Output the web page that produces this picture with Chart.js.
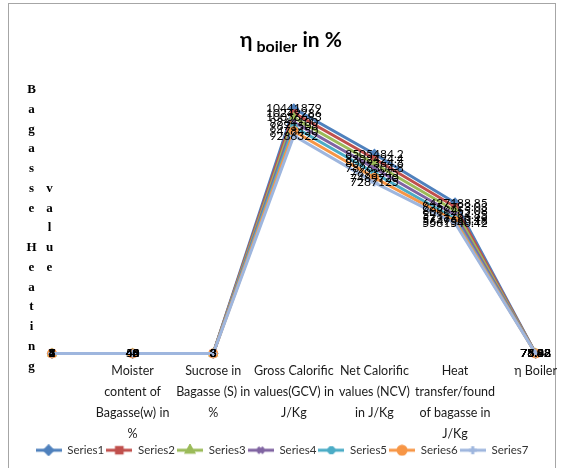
<!DOCTYPE html>
<html>
<head>
<meta charset="utf-8">
<script src="https://cdn.jsdelivr.net/npm/chart.js@4.4.1/dist/chart.umd.min.js"></script>
<style>
  html, body { margin: 0; padding: 0; background: #ffffff; }
  #wrap { width: 564px; height: 468px; position: relative; }
</style>
</head>
<body>
<div id="wrap"><canvas id="c" width="564" height="468"></canvas></div>
<script>
// Categories (multi-line labels for the x axis)
const categories = [
  "",
  ["Moister", "content of", "Bagasse(w) in", "%"],
  ["Sucrose in", "Bagasse (S) in", "%"],
  ["Gross Calorific", "values(GCV) in", "J/Kg"],
  ["Net Calorific", "values (NCV)", "in J/Kg"],
  ["Heat", "transfer/found", "of bagasse in", "J/Kg"],
  "η Boiler"
];

// Series values, one array per series
const series1 = [1, 50, 3, 10441879, 8505484.2, 6427188.85, 75.32];
const series2 = [2, 48, 3, 10249286, 8302424.4, 6256723.03, 75.88];
const series3 = [3, 46, 3, 10056693, 8099364.6, 6086255.08, 76.38];
const series4 = [4, 45, 3, 9864100, 7896304.8, 5911784.85, 76.92];
const series5 = [5, 44, 3, 9671508, 7693245, 5737660.49, 77.48];
const series6 = [6, 42, 3, 9478450, 7489720, 5649563.18, 78.02];
const series7 = [7, 40, 3, 9286322, 7287125, 5561540.42, 78.88];

const seriesNames = ["Series1", "Series2", "Series3", "Series4", "Series5", "Series6", "Series7"];
const seriesData = [series1, series2, series3, series4, series5, series6, series7];
const seriesColors = ["#4F81BD", "#C0504D", "#9BBB59", "#8064A2", "#4BACC6", "#F79646", "#9EB6DE"];
const seriesMarkers = ["rectRot", "rect", "triangle", "crossRot", "star", "circle", "cross"];

const FONT = "Lato, 'Open Sans', 'Liberation Sans', sans-serif";

// Legend swatches: a short line with the series marker in the middle
function makeSwatch(color, marker) {
  const cv = document.createElement("canvas");
  cv.width = 26; cv.height = 12;
  const g = cv.getContext("2d");
  g.strokeStyle = color; g.lineWidth = 3;
  g.beginPath(); g.moveTo(0, 6); g.lineTo(26, 6); g.stroke();
  g.fillStyle = color; g.strokeStyle = color;
  Chart.helpers.drawPoint(g, { pointStyle: marker, rotation: 0, radius: 4, borderWidth: 2 }, 13, 6);
  return cv;
}
const swatches = seriesColors.map((c, i) => makeSwatch(c, seriesMarkers[i]));

const datasets = seriesData.map((vals, i) => ({
  label: seriesNames[i],
  data: vals,
  borderColor: seriesColors[i],
  backgroundColor: seriesColors[i],
  borderWidth: 3,
  tension: 0,
  pointStyle: seriesMarkers[i],
  pointRadius: 4,
  pointBorderWidth: 2,
  pointBackgroundColor: seriesColors[i],
  pointBorderColor: seriesColors[i],
  order: seriesData.length - i,
  clip: false
}));

// Frame, title and vertical axis caption
const decorations = {
  id: "decorations",
  beforeDraw(chart) {
    const ctx = chart.ctx;
    ctx.save();
    ctx.fillStyle = "#ffffff";
    ctx.fillRect(0, 0, chart.width, chart.height);
    ctx.strokeStyle = "#a6a6a6";
    ctx.lineWidth = 1;
    ctx.strokeRect(8.5, 3.5, 547, 480);
    ctx.restore();
  },
  afterDraw(chart) {
    const ctx = chart.ctx;
    ctx.save();
    // title: η boiler in %  (with "boiler" as subscript)
    const big = "bold 21px " + FONT;
    const small = "bold 16px " + FONT;
    ctx.fillStyle = "#000000";
    ctx.textBaseline = "alphabetic";
    ctx.textAlign = "left";
    const p1 = "η", p2 = " boiler", p3 = " in %";
    ctx.font = big; const w1 = ctx.measureText(p1).width; const w3 = ctx.measureText(p3).width;
    ctx.font = small; const w2 = ctx.measureText(p2).width;
    let x = 291 - (w1 + w2 + w3) / 2;
    const base = 47;
    ctx.font = big; ctx.fillText(p1, x, base); x += w1;
    ctx.font = small; ctx.fillText(p2, x, base + 5); x += w2;
    ctx.font = big; ctx.fillText(p3, x, base);

    // vertical caption, one letter per row
    ctx.font = "bold 13px 'Liberation Serif', 'DejaVu Serif', serif";
    ctx.textAlign = "center";
    const col1 = "Bagasse Heating";
    const col2 = "value";
    const pitch = 19.75;
    for (let i = 0; i < col1.length; i++) {
      if (col1[i] !== " ") ctx.fillText(col1[i], 31.5, 93 + i * pitch);
    }
    for (let i = 0; i < col2.length; i++) {
      ctx.fillText(col2[i], 49.5, 93 + (i + 5) * pitch);
    }
    ctx.restore();
  }
};

// Value labels centred on every point
const pointLabels = {
  id: "pointLabels",
  afterDatasetsDraw(chart) {
    const ctx = chart.ctx;
    ctx.save();
    ctx.font = "12px " + FONT;
    ctx.fillStyle = "#000000";
    ctx.textAlign = "center";
    ctx.textBaseline = "middle";
    chart.data.datasets.forEach((ds, di) => {
      const meta = chart.getDatasetMeta(di);
      meta.data.forEach((pt, j) => {
        ctx.fillText(String(ds.data[j]), pt.x, pt.y);
      });
    });
    ctx.restore();
  }
};

new Chart(document.getElementById("c"), {
  type: "line",
  data: { labels: categories, datasets: datasets },
  plugins: [decorations, pointLabels],
  options: {
    responsive: false,
    animation: false,
    layout: { padding: { left: 0, right: 0, top: 72, bottom: 2 } },
    scales: {
      x: {
        offset: false,
        grid: { display: false, drawTicks: false },
        border: { display: false },
        ticks: {
          autoSkip: false, maxRotation: 0, minRotation: 0, padding: 7,
          color: "#1a1a1a",
          font: { family: FONT, size: 12.5, lineHeight: "21px" }
        },
        afterFit(scale) { scale.height = 89; }
      },
      y: {
        position: "left", min: 0, max: 12000000,
        grid: { display: false, drawTicks: false }, border: { display: false },
        ticks: { display: false },
        afterFit(scale) { scale.width = 52; }
      },
      yRight: {
        position: "right", min: 0, max: 12000000,
        grid: { display: false, drawTicks: false }, border: { display: false },
        ticks: { display: false },
        afterFit(scale) { scale.width = 26; }
      }
    },
    plugins: {
      tooltip: { enabled: false },
      title: { display: false },
      legend: {
        position: "bottom",
        labels: {
          usePointStyle: true,
          pointStyleWidth: 26,
          boxHeight: 12,
          padding: 2,
          color: "#333333",
          font: { family: FONT, size: 11.5 },
          generateLabels(chart) {
            return chart.data.datasets.map((ds, i) => ({
              text: ds.label,
              datasetIndex: i,
              pointStyle: swatches[i],
              fillStyle: "transparent",
              strokeStyle: "transparent",
              lineWidth: 0,
              hidden: false,
              fontColor: "#333333"
            }));
          }
        }
      }
    }
  }
});
</script>
</body>
</html>
